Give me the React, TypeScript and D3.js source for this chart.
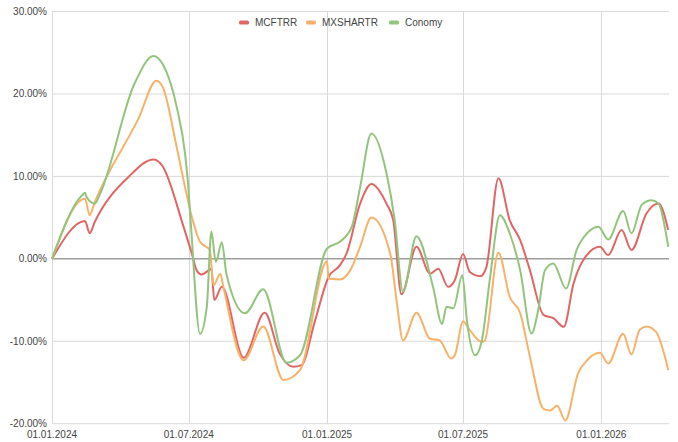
import React from "react";
import * as d3 from "d3";

const W = 678;
const H = 442;

const seriesNames = ["MCFTRR", "MXSHARTR", "Conomy"];
const seriesColors = ["#e06666", "#f6b26b", "#93c47d"];

const yTicks = [30, 20, 10, 0, -10, -20];
const xTickDates = ["2024-01-01", "2024-07-01", "2025-01-01", "2025-07-01", "2026-01-01"];

const mcftrr: [string, number][] = [
  ["2024-01-01", 0], ["2024-02-14", 4.6], ["2024-02-20", 3.1], ["2024-02-27", 4.5],
  ["2024-04-12", 9.95], ["2024-05-15", 12.06], ["2024-05-26", 11.4], ["2024-06-24", 3.9],
  ["2024-07-05", 0.65], ["2024-07-12", -1.5], ["2024-07-18", -1.9], ["2024-07-29", -1.3],
  ["2024-07-31", -1.2], ["2024-08-04", -5.0], ["2024-08-14", -3.4], ["2024-09-12", -12.0],
  ["2024-10-10", -6.55], ["2024-10-30", -11.5], ["2024-11-17", -13.1], ["2024-11-28", -12.9],
  ["2024-12-16", -7.5], ["2025-01-03", -2.2], ["2025-01-18", -0.8], ["2025-01-27", 0.65],
  ["2025-02-14", 6.7], ["2025-03-01", 9.07], ["2025-03-21", 6.7], ["2025-03-30", 4.7],
  ["2025-04-10", -4.3], ["2025-04-30", 1.46], ["2025-05-18", -1.8], ["2025-05-29", -1.2],
  ["2025-06-11", -3.4], ["2025-06-20", -2.6], ["2025-07-01", 0.57], ["2025-07-10", -1.6],
  ["2025-07-24", -2.1], ["2025-08-01", -1.0], ["2025-08-17", 9.76], ["2025-09-01", 4.7],
  ["2025-09-15", 2.27], ["2025-09-28", -1.4], ["2025-10-16", -6.8], ["2025-10-29", -7.2],
  ["2025-11-12", -8.25], ["2025-11-25", -3.0], ["2025-12-08", -0.15], ["2025-12-30", 1.46],
  ["2026-01-10", 0.45], ["2026-01-28", 3.5], ["2026-02-10", 1.06], ["2026-03-02", 5.5],
  ["2026-03-18", 6.7], ["2026-03-31", 3.5],
];

const mxshartr: [string, number][] = [
  ["2024-01-01", 0], ["2024-02-14", 7.3], ["2024-02-20", 5.3], ["2024-02-27", 6.9],
  ["2024-04-25", 17.0], ["2024-05-19", 21.6], ["2024-05-28", 20.7], ["2024-06-13", 14.4],
  ["2024-06-24", 9.55], ["2024-07-05", 5.1], ["2024-07-16", 2.06], ["2024-07-29", 1.06],
  ["2024-08-03", -3.2], ["2024-08-12", -1.8], ["2024-08-16", -3.4], ["2024-09-12", -12.3],
  ["2024-10-08", -8.2], ["2024-11-04", -14.7], ["2024-11-26", -13.5], ["2025-01-01", -0.3],
  ["2025-01-03", -2.4], ["2025-01-18", -2.5], ["2025-02-01", -1.37], ["2025-02-14", 1.46],
  ["2025-03-01", 5.0], ["2025-03-26", 0.65], ["2025-04-04", -5.4], ["2025-04-12", -9.9],
  ["2025-04-30", -6.55], ["2025-05-18", -9.7], ["2025-05-31", -9.9], ["2025-06-15", -12.1],
  ["2025-06-20", -11.7], ["2025-07-01", -7.6], ["2025-07-10", -8.65], ["2025-07-26", -10.1],
  ["2025-07-30", -9.9], ["2025-08-17", 0.73], ["2025-09-01", -4.6], ["2025-09-15", -6.6],
  ["2025-09-28", -11.9], ["2025-10-16", -18.2], ["2025-10-25", -18.4], ["2025-11-03", -17.8],
  ["2025-11-14", -19.6], ["2025-12-01", -13.9], ["2025-12-13", -12.3], ["2025-12-30", -11.4],
  ["2026-01-10", -12.7], ["2026-01-30", -9.1], ["2026-02-10", -11.6], ["2026-02-21", -8.6],
  ["2026-03-02", -8.2], ["2026-03-15", -8.9], ["2026-03-31", -13.5],
];

const conomy: [string, number][] = [
  ["2024-01-01", 0], ["2024-02-10", 7.7], ["2024-02-14", 8.0], ["2024-02-16", 7.5],
  ["2024-02-27", 6.7], ["2024-03-05", 7.9], ["2024-04-20", 21.3], ["2024-05-15", 24.6],
  ["2024-05-28", 23.5], ["2024-06-15", 18.4], ["2024-06-26", 12.8], ["2024-06-30", 9.15],
  ["2024-07-04", 3.9], ["2024-07-16", -9.1], ["2024-07-25", -5.8], ["2024-07-31", 3.3],
  ["2024-08-06", -0.36], ["2024-08-14", 2.0], ["2024-08-20", -1.8], ["2024-09-14", -6.6],
  ["2024-10-08", -3.7], ["2024-11-08", -12.6], ["2024-11-26", -11.7], ["2025-01-01", 1.26],
  ["2025-01-18", 2.06], ["2025-02-03", 3.9], ["2025-02-14", 8.7], ["2025-03-01", 15.2],
  ["2025-03-21", 10.4], ["2025-04-01", 4.7], ["2025-04-12", -4.0], ["2025-04-30", 2.75],
  ["2025-05-22", -3.4], ["2025-06-03", -7.9], ["2025-06-09", -5.8], ["2025-06-18", -6.0],
  ["2025-06-30", -2.0], ["2025-07-06", -7.4], ["2025-07-17", -11.7], ["2025-07-26", -9.9],
  ["2025-08-06", -2.2], ["2025-08-19", 5.3], ["2025-09-01", 3.1], ["2025-09-15", -1.4],
  ["2025-09-30", -9.05], ["2025-10-09", -6.2], ["2025-10-18", -1.4], ["2025-10-29", -0.56],
  ["2025-11-15", -3.6], ["2025-11-29", 1.06], ["2025-12-13", 3.1], ["2025-12-28", 3.9],
  ["2026-01-10", 2.35], ["2026-01-30", 5.8], ["2026-02-10", 3.1], ["2026-02-24", 6.6],
  ["2026-03-09", 7.1], ["2026-03-18", 6.7], ["2026-03-31", 1.46],
];

const allSeries = [mcftrr, mxshartr, conomy];

const parse = d3.utcParse("%Y-%m-%d");
const fmtX = d3.utcFormat("%d.%m.%Y");
const font = "Arial, 'Liberation Sans', sans-serif";

export default function App() {
  const left = 52;
  const right = 669;
  const top = 11.5;
  const bottom = 423.7;

  const x = d3
    .scaleUtc()
    .domain([parse("2024-01-01") as Date, parse("2026-04-01") as Date])
    .range([left, right]);
  const y = d3.scaleLinear().domain([-20, 30]).range([bottom, top]);

  const line = d3
    .line<[string, number]>()
    .x((d) => x(parse(d[0]) as Date))
    .y((d) => y(d[1]))
    .curve(d3.curveMonotoneX);

  const legendItems = [
    { name: seriesNames[0], color: seriesColors[0], x: 239 },
    { name: seriesNames[1], color: seriesColors[1], x: 306 },
    { name: seriesNames[2], color: seriesColors[2], x: 389 },
  ];

  return (
    <div style={{ position: "absolute", left: 0, top: 0 }}>
      <svg width={W} height={H} style={{ display: "block", background: "#fff" }}>
        {yTicks
          .filter((t) => t !== 0)
          .map((t) => (
            <line key={"h" + t} x1={left} x2={right} y1={y(t)} y2={y(t)} stroke="#d9d9d9" strokeWidth={1} />
          ))}
        {xTickDates.map((s) => {
          const xx = Math.round(x(parse(s) as Date)) + 0.5;
          return <line key={"v" + s} x1={xx} x2={xx} y1={top} y2={bottom} stroke="#d9d9d9" strokeWidth={1} />;
        })}
        <line x1={left} x2={right} y1={y(0)} y2={y(0)} stroke="#9e9e9e" strokeWidth={1.6} />
        {yTicks.map((t) => (
          <text
            key={"yl" + t}
            x={47}
            y={y(t)}
            dy="0.35em"
            textAnchor="end"
            fontFamily={font}
            fontSize={10}
            fill="#444"
          >
            {t.toFixed(2) + "%"}
          </text>
        ))}
        {xTickDates.map((s) => (
          <text
            key={"xl" + s}
            x={x(parse(s) as Date)}
            y={437.5}
            textAnchor="middle"
            fontFamily={font}
            fontSize={10}
            fill="#444"
          >
            {fmtX(parse(s) as Date)}
          </text>
        ))}
        {allSeries.map((s, i) => (
          <path
            key={"s" + i}
            d={line(s) || ""}
            fill="none"
            stroke={seriesColors[i]}
            strokeWidth={2}
            strokeLinejoin="round"
          />
        ))}
        {legendItems.map((it) => (
          <g key={it.name}>
            <rect x={it.x} y={20.5} width={10} height={4} rx={1.5} fill={it.color} />
            <text x={it.x + 16} y={22.5} dy="0.35em" fontFamily={font} fontSize={10} fill="#444">
              {it.name}
            </text>
          </g>
        ))}
      </svg>
    </div>
  );
}
